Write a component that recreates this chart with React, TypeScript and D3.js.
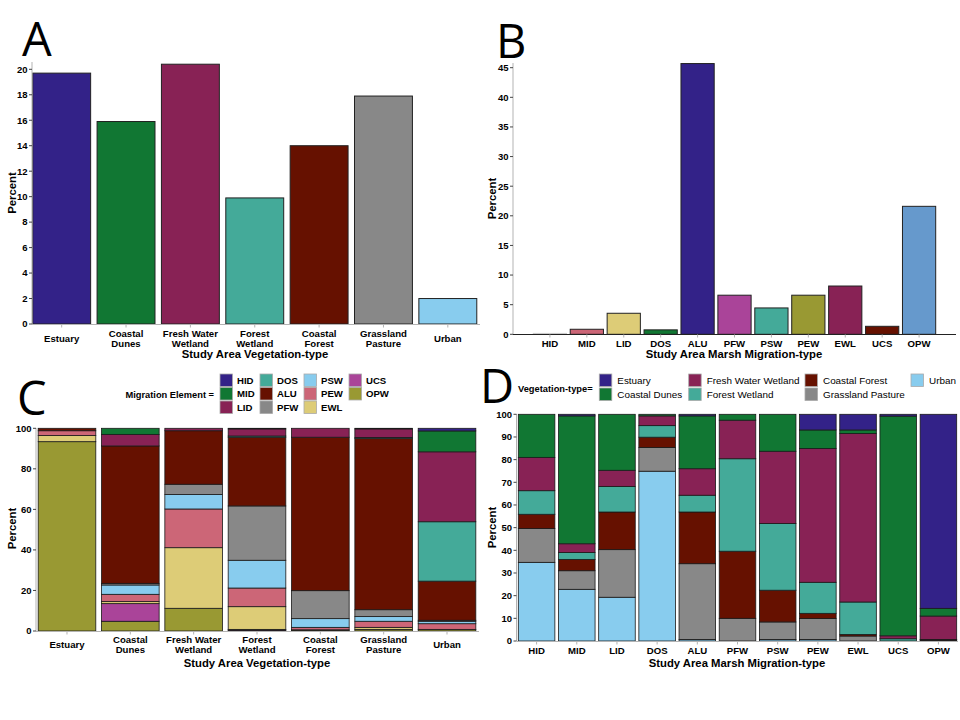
import React from "react";
import * as d3 from "d3";

// ---------- Data ----------
const vegTypes = ["Estuary", "Coastal Dunes", "Fresh Water Wetland", "Forest Wetland", "Coastal Forest", "Grassland Pasture", "Urban"];
const vegTickLines = [["Estuary"], ["Coastal", "Dunes"], ["Fresh Water", "Wetland"], ["Forest", "Wetland"], ["Coastal", "Forest"], ["Grassland", "Pasture"], ["Urban"]];
const vegColors = ["#332288", "#117733", "#882255", "#44AA99", "#661100", "#888888", "#88CCEE"];
const vegPercent = [19.7, 15.9, 20.4, 9.9, 14.0, 17.9, 2.0];

const marshTypes = ["HID", "MID", "LID", "DOS", "ALU", "PFW", "PSW", "PEW", "EWL", "UCS", "OPW"];
const marshPercent = [0.15, 0.85, 3.55, 0.75, 45.7, 6.6, 4.45, 6.6, 8.15, 1.35, 21.6];
const marshColorsB = ["#DDDDDD", "#CC6677", "#DDCC77", "#117733", "#332288", "#AA4499", "#44AA99", "#999933", "#882255", "#661100", "#6699CC"];
const marshColorsC = ["#332288", "#117733", "#882255", "#44AA99", "#661100", "#888888", "#88CCEE", "#CC6677", "#DDCC77", "#AA4499", "#999933"];

// Panel C: composition of each vegetation type by migration element (HID..OPW)
const cEstuary = [0, 0, 0, 0, 1.2, 0, 0, 2.4, 3.0, 0, 93.4];
const cCoastalDunes = [0, 3.0, 5.7, 0, 67.8, 0.8, 4.6, 3.6, 1.0, 8.7, 4.8];
const cFreshWaterWetland = [0, 0, 1.2, 0, 26.4, 5.1, 7.1, 19.1, 29.9, 0, 11.2];
const cForestWetland = [0, 0.3, 3.5, 0.6, 33.9, 26.8, 13.7, 9.2, 11.2, 0.4, 0.4];
const cCoastalForest = [0, 0, 4.4, 0, 75.7, 13.8, 4.3, 1.2, 0.3, 0, 0.3];
const cGrasslandPasture = [0, 0.3, 4.2, 0.6, 84.4, 3.4, 2.3, 3.0, 1.0, 0, 0.8];
const cUrban = [1.3, 10.3, 34.5, 29.3, 19.3, 0.5, 1.2, 2.8, 0, 0, 0.8];
const compC = [cEstuary, cCoastalDunes, cFreshWaterWetland, cForestWetland, cCoastalForest, cGrasslandPasture, cUrban];

// Panel D: composition of each marsh migration type by vegetation type (Estuary..Urban)
const dHID = [0, 19.0, 14.7, 10.4, 6.3, 14.9, 34.7];
const dMID = [0.7, 56.4, 3.9, 3.0, 5.0, 8.2, 22.8];
const dLID = [0, 24.7, 7.1, 11.3, 16.6, 21.0, 19.3];
const dDOS = [0, 0.7, 4.3, 5.1, 4.5, 10.5, 74.9];
const dALU = [0.7, 23.3, 11.7, 7.4, 22.8, 33.4, 0.7];
const dPFW = [0, 2.6, 17.0, 40.8, 29.6, 10.0, 0];
const dPSW = [0, 16.3, 31.9, 29.4, 14.0, 7.7, 0.7];
const dPEW = [6.9, 8.2, 59.0, 13.7, 2.3, 9.2, 0.7];
const dEWL = [6.9, 1.6, 74.3, 14.3, 0.7, 2.2, 0];
const dUCS = [0.8, 96.9, 1.3, 1.0, 0, 0, 0];
const dOPW = [85.6, 3.4, 10.3, 0, 0.3, 0.4, 0];
const compD = [dHID, dMID, dLID, dDOS, dALU, dPFW, dPSW, dPEW, dEWL, dUCS, dOPW];

const ticksA = [0, 2, 4, 6, 8, 10, 12, 14, 16, 18, 20];
const ticksB = [0, 5, 10, 15, 20, 25, 30, 35, 40, 45];
const ticksC = [0, 20, 40, 60, 80, 100];
const ticksD = [0, 10, 20, 30, 40, 50, 60, 70, 80, 90, 100];

// ---------- Styles ----------
const FONT = "'Liberation Sans', Arial, sans-serif";
const BIG = "'Open Sans', 'Liberation Sans', sans-serif";
const AXIS_GRAY = "#b3b3b3";

type YAxisProps = { x: number; y: d3.ScaleLinear<number, number>; ticks: number[]; top: number };
function YAxis({ x, y, ticks, top }: YAxisProps) {
  return (
    <g>
      <line x1={x} x2={x} y1={top} y2={y(0)} stroke={AXIS_GRAY} strokeWidth={1} />
      {ticks.map((t) => (
        <g key={t}>
          <line x1={x - 3} x2={x} y1={y(t)} y2={y(t)} stroke="#444" strokeWidth={1} />
          <text x={x - 4.5} y={y(t)} dy="0.35em" textAnchor="end" fontFamily={FONT} fontWeight="bold" fontSize={9.5} fill="#000">
            {t}
          </text>
        </g>
      ))}
    </g>
  );
}

type XAxisProps = {
  x: d3.ScaleBand<string>;
  y0: number;
  x0: number;
  x1: number;
  labels: string[][];
  labelY: number;
  color?: string;
};
function XAxis({ x, y0, x0, x1, labels, labelY, color }: XAxisProps) {
  return (
    <g>
      <line x1={x0} x2={x1} y1={y0} y2={y0} stroke={color || AXIS_GRAY} strokeWidth={1.2} />
      {x.domain().map((d, i) => {
        const cx = (x(d) as number) + x.bandwidth() / 2;
        const lines = labels[i];
        return (
          <g key={d}>
            <line x1={cx} x2={cx} y1={y0} y2={y0 + 3} stroke={AXIS_GRAY} strokeWidth={1} />
            {lines.map((l, k) => (
              <text
                key={k}
                x={cx}
                y={labelY + (k - (lines.length - 1) / 2) * 10}
                dy="0.35em"
                textAnchor="middle"
                fontFamily={FONT}
                fontWeight="bold"
                fontSize={9.6}
                fill="#000"
              >
                {l}
              </text>
            ))}
          </g>
        );
      })}
    </g>
  );
}

function AxisTitles({ xTitle, xTitleX, xTitleY, yTitleX, yTitleY }: { xTitle: string; xTitleX: number; xTitleY: number; yTitleX: number; yTitleY: number }) {
  return (
    <g fontFamily={FONT} fontWeight="bold" fontSize={11.3} fill="#000">
      <text x={xTitleX} y={xTitleY} dy="0.35em" textAnchor="middle">
        {xTitle}
      </text>
      <text transform={`translate(${yTitleX},${yTitleY}) rotate(-90)`} dy="0.35em" textAnchor="middle">
        Percent
      </text>
    </g>
  );
}

function PanelA() {
  const x = d3.scaleBand<string>().domain(vegTypes).range([29.5, 480]).paddingInner(0.1).paddingOuter(0.05);
  const y = d3.scaleLinear().domain([0, 20]).range([324, 69.3]);
  return (
    <g>
      <text x={22} y={56} fontFamily={BIG} fontSize={47} fill="#000">A</text>
      {vegTypes.map((d, i) => (
        <rect
          key={d}
          x={x(d)}
          y={y(vegPercent[i])}
          width={x.bandwidth()}
          height={y(0) - y(vegPercent[i])}
          fill={vegColors[i]}
          stroke="#222"
          strokeWidth={1}
        />
      ))}
      <YAxis x={32} y={y} ticks={ticksA} top={62} />
      <XAxis x={x} y0={324.5} x0={32} x1={480} labels={vegTickLines} labelY={338.7} />
      <AxisTitles xTitle="Study Area Vegetation-type" xTitleX={255} xTitleY={354} yTitleX={12} yTitleY={193} />
    </g>
  );
}

function PanelB() {
  const x = d3.scaleBand<string>().domain(marshTypes).range([513, 956]).paddingInner(0.1).paddingOuter(0.55);
  const y = d3.scaleLinear().domain([0, 45]).range([334.3, 67.7]);
  return (
    <g>
      <text x={496} y={58} fontFamily={BIG} fontSize={47} fill="#000">B</text>
      {marshTypes.map((d, i) => (
        <rect
          key={d}
          x={x(d)}
          y={y(marshPercent[i])}
          width={x.bandwidth()}
          height={y(0) - y(marshPercent[i])}
          fill={marshColorsB[i]}
          stroke={i === 0 ? "#cccccc" : "#222"}
          strokeWidth={1}
        />
      ))}
      <YAxis x={513} y={y} ticks={ticksB} top={63} />
      <XAxis x={x} y0={334.5} x0={513} x1={956} labels={marshTypes.map((m) => [m])} labelY={343.7} color="#222" />
      <AxisTitles xTitle="Study Area Marsh Migration-type" xTitleX={734} xTitleY={354.5} yTitleX={492} yTitleY={198.5} />
    </g>
  );
}

type StackProps = {
  cats: string[];
  keys: string[];
  matrix: number[][];
  colors: string[];
  x: d3.ScaleBand<string>;
  y: d3.ScaleLinear<number, number>;
};
function StackedBars({ cats, keys, matrix, colors, x, y }: StackProps) {
  const rows = cats.map((c, i) => {
    const o: Record<string, number | string> = { cat: c };
    keys.forEach((k, j) => (o[k] = matrix[i][j]));
    return o;
  });
  // ggplot default: first level on top, so stack from last key upward
  const stackKeys = [...keys].reverse();
  const series = d3.stack<Record<string, number | string>>().keys(stackKeys)(rows as any);
  return (
    <g>
      {series.map((s) => {
        const ki = keys.indexOf(s.key);
        return (
          <g key={s.key}>
            {s.map((seg, i) => {
              const h = y(seg[0]) - y(seg[1]);
              if (h <= 0.01) return null;
              return (
                <rect
                  key={i}
                  x={x(cats[i])}
                  y={y(seg[1])}
                  width={x.bandwidth()}
                  height={h}
                  fill={colors[ki]}
                  stroke="#1a1a1a"
                  strokeWidth={0.8}
                />
              );
            })}
          </g>
        );
      })}
    </g>
  );
}

function PanelC() {
  const x = d3.scaleBand<string>().domain(vegTypes).range([35, 479]).paddingInner(0.09).paddingOuter(0.05);
  const y = d3.scaleLinear().domain([0, 100]).range([631, 428.3]);
  const colX = [220, 260, 304, 349];
  const rowY = [374, 387.5, 401];
  return (
    <g>
      <text x={17} y={415} fontFamily={BIG} fontSize={47} fill="#000">C</text>
      <text x={214} y={395} dy="0.35em" textAnchor="end" fontFamily={FONT} fontWeight="bold" fontSize={9.3} fill="#000">
        Migration Element =
      </text>
      {marshTypes.map((m, i) => {
        const c = Math.floor(i / 3);
        const r = i % 3;
        return (
          <g key={m}>
            <rect x={colX[c]} y={rowY[r]} width={12.5} height={12.5} fill={marshColorsC[i]} stroke="#aaaaaa" strokeWidth={0.8} />
            <text x={colX[c] + 17} y={rowY[r] + 6.5} dy="0.35em" fontFamily={FONT} fontWeight="bold" fontSize={9.6} fill="#000">
              {m}
            </text>
          </g>
        );
      })}
      <StackedBars cats={vegTypes} keys={marshTypes} matrix={compC} colors={marshColorsC} x={x} y={y} />
      <YAxis x={36} y={y} ticks={ticksC} top={428} />
      <XAxis x={x} y0={631.5} x0={36} x1={479} labels={vegTickLines} labelY={645} />
      <AxisTitles xTitle="Study Area Vegetation-type" xTitleX={257} xTitleY={663} yTitleX={12} yTitleY={528.5} />
    </g>
  );
}

function PanelD() {
  const x = d3.scaleBand<string>().domain(marshTypes).range([516.5, 958.5]).paddingInner(0.09).paddingOuter(0.045);
  const y = d3.scaleLinear().domain([0, 100]).range([641, 414.3]);
  const colX = [599.3, 688.7, 805, 911];
  const rowY = [374, 388];
  return (
    <g>
      <text x={480} y={403} fontFamily={BIG} fontSize={47} fill="#000">D</text>
      <text x={518} y={388.7} dy="0.35em" fontFamily={FONT} fontWeight="bold" fontSize={9.3} fill="#000">
        Vegetation-type=
      </text>
      {vegTypes.map((v, i) => {
        const c = Math.floor(i / 2);
        const r = i % 2;
        return (
          <g key={v}>
            <rect x={colX[c]} y={rowY[r]} width={12.5} height={12.5} fill={vegColors[i]} stroke="#aaaaaa" strokeWidth={0.8} />
            <text x={colX[c] + 18} y={rowY[r] + 6.5} dy="0.35em" fontFamily={FONT} fontSize={9.9} fill="#000">
              {v}
            </text>
          </g>
        );
      })}
      <StackedBars cats={marshTypes} keys={vegTypes} matrix={compD} colors={vegColors} x={x} y={y} />
      <YAxis x={516.5} y={y} ticks={ticksD} top={414} />
      <XAxis x={x} y0={641.5} x0={516.5} x1={958} labels={marshTypes.map((m) => [m])} labelY={650.3} />
      <AxisTitles xTitle="Study Area Marsh Migration-type" xTitleX={737} xTitleY={663} yTitleX={492} yTitleY={527.5} />
    </g>
  );
}

export default function App() {
  return (
    <svg
      width={960}
      height={720}
      viewBox="0 0 960 720"
      style={{ position: "absolute", left: 0, top: 0, background: "#fff" }}
    >
      <rect x={0} y={0} width={960} height={720} fill="#fff" />
      <PanelA />
      <PanelB />
      <PanelC />
      <PanelD />
    </svg>
  );
}
